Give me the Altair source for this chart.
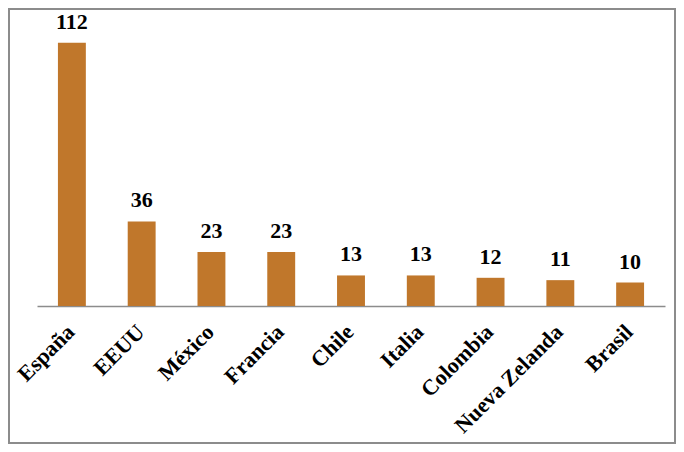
import altair as alt
import pandas as pd

countries = ["España", "EEUU", "México", "Francia", "Chile", "Italia", "Colombia", "Nueva Zelanda", "Brasil"]
values = [112, 36, 23, 23, 13, 13, 12, 11, 10]

df = pd.DataFrame({"pais": countries, "valor": values})

W, H = 628, 282
PL, PT, PR, PB = 29, 16, 11, 138

x = alt.X("pais:N", sort=countries, title=None,
          scale=alt.Scale(paddingInner=0.6, paddingOuter=0.3),
          axis=alt.Axis(labelAngle=-45, labelAlign="right", labelBaseline="middle",
                        labelFont="Liberation Serif", labelFontWeight="bold", labelFontSize=22,
                        labelColor="black", labelPadding=22, labelOffset=-1, ticks=False,
                        domainColor="#8c8c8c", domainWidth=1.5, labelOverlap=False))
y = alt.Y("valor:Q", scale=alt.Scale(domain=[0, 120]), axis=None)

bars = alt.Chart(df).mark_bar(color="#C0772B").encode(x=x, y=y)
text = alt.Chart(df).mark_text(font="Liberation Serif", fontWeight="bold", fontSize=22,
                               baseline="alphabetic", dy=-14, color="black").encode(
    x=x, y=y, text="valor:Q")

border = alt.Chart(pd.DataFrame({"a": [0]})).mark_rect(
    fill=None, stroke="#8c8c8c", strokeWidth=2).encode(
    x=alt.value(-PL + 1), x2=alt.value(W + PR - 1),
    y=alt.value(-PT + 1), y2=alt.value(H + PB - 1))

chart = alt.layer(bars, text, border).properties(
    width=W, height=H,
    background="white",
    autosize=alt.AutoSizeParams(type="none"),
    padding={"left": PL, "top": PT, "right": PR, "bottom": PB},
).configure_view(strokeWidth=0, stroke="transparent")

chart.save("out.html", embed_options={"renderer": "svg", "actions": False})
